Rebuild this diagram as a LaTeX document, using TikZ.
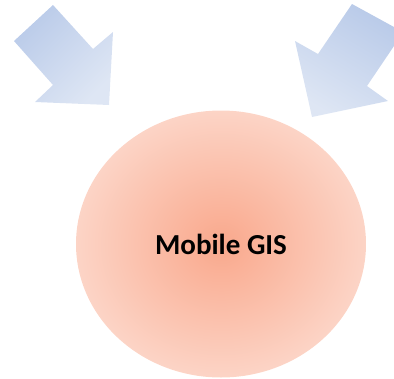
\documentclass[tikz,border=0pt]{standalone}
\usepackage{fontspec}
\setmainfont{Carlito}
\definecolor{arrowdark}{RGB}{186,203,233}
\definecolor{arrowlight}{RGB}{222,230,244}
\definecolor{gisinner}{RGB}{249,168,140}
\definecolor{gisouter}{RGB}{252,212,198}
\usetikzlibrary{shapes.geometric}

\begin{document}
\begin{tikzpicture}[x=1pt,y=-1pt,
    blockarrow/.style={draw=none,top color=arrowdark,bottom color=arrowlight},
    bubble/.style={ellipse,draw=none,inner color=gisinner,outer color=gisouter,
      minimum width=290pt,minimum height=267pt,font=\fontsize{29}{34}\selectfont\bfseries}]
      \useasboundingbox (0,0) rectangle (394,378);
      % incoming arrows
      \shade[blockarrow,shading angle=45]
        (14,41) -- (53,5) -- (93,49) -- (113,32) -- (109,105) -- (35,102) -- (53,85) -- cycle;
      \shade[blockarrow,shading angle=-31]
        (352,4) -- (394,27) -- (394,46) -- (367,86) -- (388,101) -- (312,117) -- (295,41) -- (318,54) -- cycle;
      % central topic
      \node[bubble] (gis) at (221,244) {Mobile GIS};
    \end{tikzpicture}
\end{document}
